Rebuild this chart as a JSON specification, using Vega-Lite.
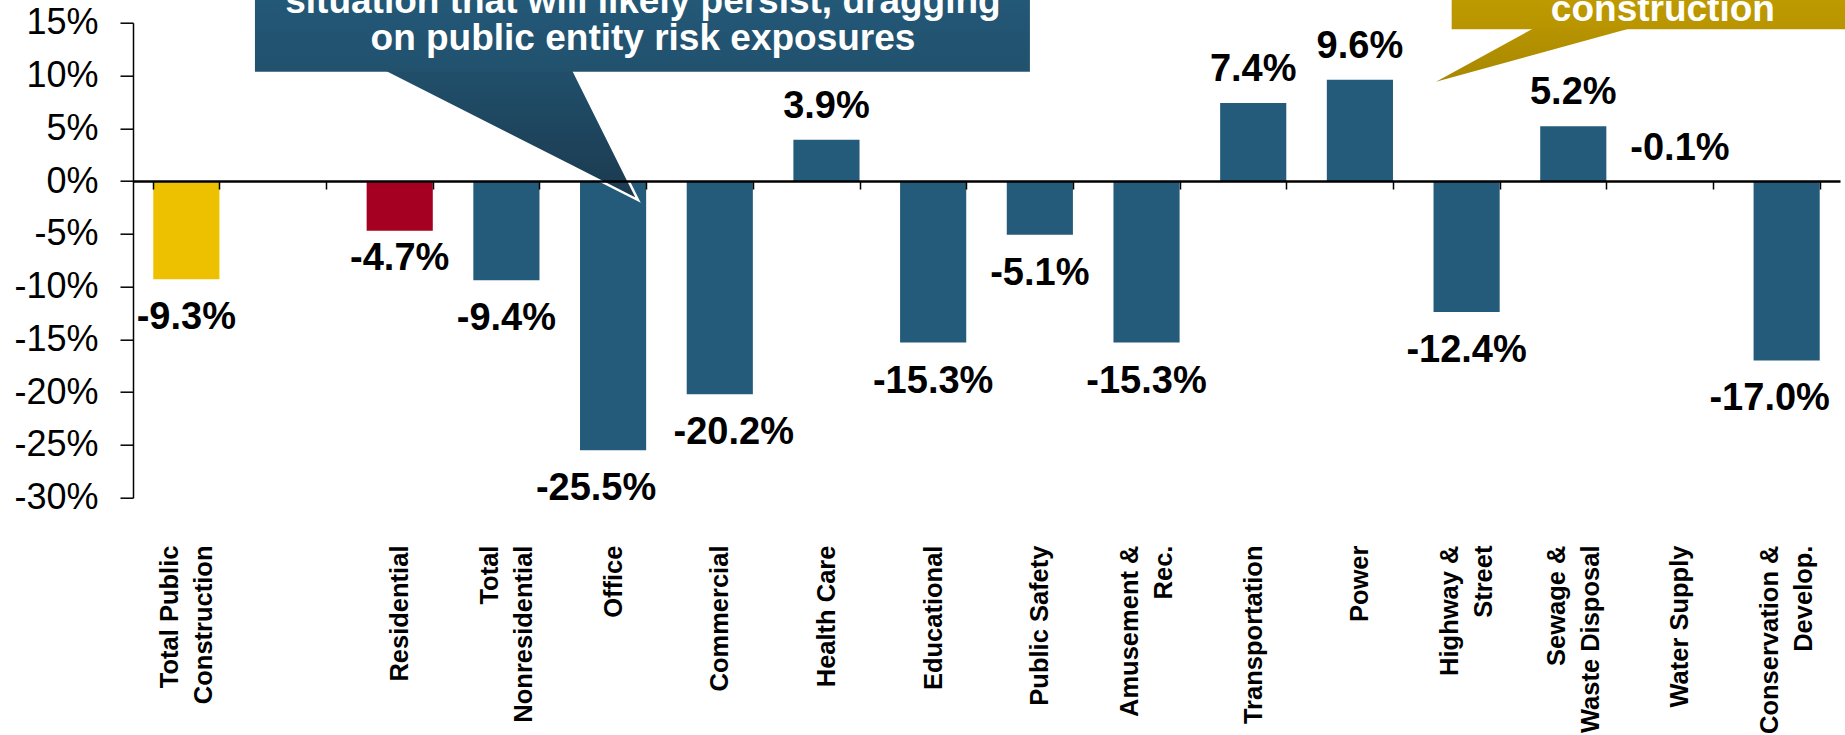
{
  "$schema": "https://vega.github.io/schema/vega-lite/v6.json",
  "width": 1707,
  "height": 475,
  "autosize": {"type": "none"},
  "padding": {"left": 133, "top": 22.7, "right": 5, "bottom": 237.3},
  "background": "white",
  "config": {"view": {"stroke": null}, "font": "Liberation Sans"},
  "datasets": {
    "construction": [
      {"category": "Total Public\nConstruction", "segment": "Total public", "change": -0.093},
      {"category": "Residential", "segment": "Residential", "change": -0.047},
      {"category": "Total\nNonresidential", "segment": "Nonresidential", "change": -0.094},
      {"category": "Office", "segment": "Nonresidential", "change": -0.255},
      {"category": "Commercial", "segment": "Nonresidential", "change": -0.202},
      {"category": "Health Care", "segment": "Nonresidential", "change": 0.039},
      {"category": "Educational", "segment": "Nonresidential", "change": -0.153},
      {"category": "Public Safety", "segment": "Nonresidential", "change": -0.051},
      {"category": "Amusement &\nRec.", "segment": "Nonresidential", "change": -0.153},
      {"category": "Transportation", "segment": "Nonresidential", "change": 0.074},
      {"category": "Power", "segment": "Nonresidential", "change": 0.096},
      {"category": "Highway &\nStreet", "segment": "Nonresidential", "change": -0.124},
      {"category": "Sewage &\nWaste Disposal", "segment": "Nonresidential", "change": 0.052},
      {"category": "Water Supply", "segment": "Nonresidential", "change": -0.001},
      {"category": "Conservation &\nDevelop.", "segment": "Nonresidential", "change": -0.170}
    ],
    "blueTip": [
      {"u": 2.238, "top": 0.1099, "bot": 0.1099},
      {"u": 4.103, "top": 0.1099, "bot": 0.0143},
      {"u": 4.733, "top": -0.018, "bot": -0.018}
    ],
    "goldTip": [
      {"u": 12.213, "top": 0.0941, "bot": 0.0941},
      {"u": 13.201, "top": 0.1487, "bot": 0.1215},
      {"u": 14.181, "top": 0.1487, "bot": 0.1487}
    ]
  },
  "layer": [
    {
      "data": {"name": "construction"},
      "transform": [
        {"calculate": "replace(format(datum.change, '.1%'), '−', '-')", "as": "label"}
      ],
      "encoding": {
        "x": {
          "field": "category",
          "type": "nominal",
          "sort": null,
          "scale": {
            "type": "band",
            "domain": ["Total Public\nConstruction", " ", "Residential", "Total\nNonresidential", "Office", "Commercial", "Health Care", "Educational", "Public Safety", "Amusement &\nRec.", "Transportation", "Power", "Highway &\nStreet", "Sewage &\nWaste Disposal", "Water Supply", "Conservation &\nDevelop."],
            "paddingInner": 0.38,
            "paddingOuter": 0.19
          },
          "axis": {
            "title": null,
            "domain": true,
            "domainColor": "#000000",
            "domainWidth": 2.5,
            "ticks": true,
            "tickBand": "extent",
            "tickColor": "#000000",
            "tickWidth": 1.5,
            "tickSize": 8,
            "offset": {"expr": "scale('y', 0) - height"},
            "labelAngle": 270,
            "labelAlign": "right",
            "labelBaseline": "middle",
            "labelPadding": 356,
            "labelOffset": {"condition": {"test": "indexof(datum.label, '\\n') >= 0", "value": -17}, "value": 0},
            "labelFont": "Liberation Sans",
            "labelFontWeight": "bold",
            "labelFontSize": 25.5,
            "labelLineHeight": 34,
            "labelColor": "#000000",
            "labelLimit": 0,
            "labelOverlap": false,
            "labelExpr": "split(datum.label, '\\n')",
            "zindex": 1
          }
        },
        "y": {
          "field": "change",
          "type": "quantitative",
          "scale": {"domain": [-0.3, 0.15], "nice": false, "zero": false},
          "axis": {
            "title": null,
            "values": [-0.3, -0.25, -0.2, -0.15, -0.1, -0.05, 0, 0.05, 0.1, 0.15],
            "labelExpr": "replace(format(datum.value, '.0%'), '−', '-')",
            "grid": false,
            "domainColor": "#000000",
            "domainWidth": 1.5,
            "tickColor": "#000000",
            "tickWidth": 1.5,
            "tickSize": 13,
            "labelPadding": 22,
            "labelFont": "Liberation Sans",
            "labelFontSize": 36,
            "labelColor": "#000000",
            "labelFlush": false,
            "labelOverlap": false,
            "zindex": 1
          }
        }
      },
      "layer": [
        {
          "mark": {"type": "bar"},
          "encoding": {
            "color": {
              "field": "segment",
              "type": "nominal",
              "scale": {"domain": ["Total public", "Residential", "Nonresidential"], "range": ["#EDC100", "#A50021", "#245B7A"]},
              "legend": null
            }
          }
        },
        {
          "transform": [{"filter": "datum.change > -0.005"}],
          "mark": {"type": "text", "font": "Liberation Sans", "fontWeight": "bold", "fontSize": 38, "color": "#000000", "baseline": "alphabetic", "align": "center", "dy": -22},
          "encoding": {"text": {"field": "label"}}
        },
        {
          "transform": [
            {"filter": {"and": [
              {"field": "change", "lt": -0.005},
              {"not": {"field": "category", "oneOf": ["Office", "Commercial", "Residential", "Conservation &\nDevelop."]}}
            ]}}
          ],
          "mark": {"type": "text", "font": "Liberation Sans", "fontWeight": "bold", "fontSize": 38, "color": "#000000", "baseline": "top", "align": "center", "dy": 20},
          "encoding": {"text": {"field": "label"}}
        },
        {
          "transform": [{"filter": {"field": "category", "oneOf": ["Office", "Conservation &\nDevelop."]}}],
          "mark": {"type": "text", "font": "Liberation Sans", "fontWeight": "bold", "fontSize": 38, "color": "#000000", "baseline": "top", "align": "center", "dy": 20, "dx": -17},
          "encoding": {"text": {"field": "label"}}
        },
        {
          "transform": [{"filter": {"field": "category", "oneOf": ["Commercial"]}}],
          "mark": {"type": "text", "font": "Liberation Sans", "fontWeight": "bold", "fontSize": 38, "color": "#000000", "baseline": "top", "align": "center", "dy": 20, "dx": 14},
          "encoding": {"text": {"field": "label"}}
        },
        {
          "transform": [{"filter": {"field": "category", "oneOf": ["Residential"]}}],
          "mark": {"type": "text", "font": "Liberation Sans", "fontWeight": "bold", "fontSize": 38, "color": "#000000", "baseline": "top", "align": "center", "dy": 9},
          "encoding": {"text": {"field": "label"}}
        }
      ]
    },
    {
      "data": {"name": "blueTip"},
      "mark": {
        "type": "area",
        "stroke": "#ffffff",
        "strokeWidth": 2.5,
        "fill": {"gradient": "linear", "x1": 0, "y1": 0, "x2": 0, "y2": 1, "stops": [{"offset": 0, "color": "#21506c"}, {"offset": 1, "color": "#1b3a4f"}]}
      },
      "encoding": {
        "x": {"field": "u", "type": "quantitative", "scale": {"domain": [0, 16], "nice": false, "zero": false}, "axis": null},
        "y": {
          "field": "top", "type": "quantitative", "scale": {"domain": [-0.3, 0.15], "nice": false, "zero": false},
          "axis": {
            "title": null,
            "values": [-0.3, -0.25, -0.2, -0.15, -0.1, -0.05, 0, 0.05, 0.1, 0.15],
            "labelExpr": "replace(format(datum.value, '.0%'), '−', '-')",
            "grid": false, "domainColor": "#000000", "domainWidth": 1.5, "tickColor": "#000000", "tickWidth": 1.5, "tickSize": 13,
            "labelPadding": 22, "labelFont": "Liberation Sans", "labelFontSize": 36, "labelColor": "#000000", "labelFlush": false, "labelOverlap": false, "zindex": 1
          }
        },
        "y2": {"field": "bot"}
      }
    },
    {
      "data": {"values": [{}]},
      "mark": {
        "type": "rect",
        "fill": {"gradient": "linear", "x1": 0, "y1": 0, "x2": 0, "y2": 1, "stops": [{"offset": 0, "color": "#265e80"}, {"offset": 1, "color": "#21516d"}]}
      },
      "encoding": {
        "x": {"datum": 1.143, "type": "quantitative", "scale": {"domain": [0, 16], "nice": false, "zero": false}, "axis": null},
        "x2": {"datum": 8.407},
        "y": {
          "datum": 0.2283, "type": "quantitative", "scale": {"domain": [-0.3, 0.15], "nice": false, "zero": false},
          "axis": {
            "title": null,
            "values": [-0.3, -0.25, -0.2, -0.15, -0.1, -0.05, 0, 0.05, 0.1, 0.15],
            "labelExpr": "replace(format(datum.value, '.0%'), '−', '-')",
            "grid": false, "domainColor": "#000000", "domainWidth": 1.5, "tickColor": "#000000", "tickWidth": 1.5, "tickSize": 13,
            "labelPadding": 22, "labelFont": "Liberation Sans", "labelFontSize": 36, "labelColor": "#000000", "labelFlush": false, "labelOverlap": false, "zindex": 1
          }
        },
        "y2": {"datum": 0.1035}
      }
    },
    {
      "data": {"values": [{}]},
      "mark": {"type": "text", "font": "Liberation Sans", "fontWeight": "bold", "fontSize": 37, "color": "#ffffff", "align": "center", "baseline": "alphabetic", "lineHeight": 37},
      "encoding": {
        "x": {"datum": 4.78, "type": "quantitative", "scale": {"domain": [0, 16], "nice": false, "zero": false}, "axis": null},
        "y": {
          "datum": 0.1592, "type": "quantitative", "scale": {"domain": [-0.3, 0.15], "nice": false, "zero": false},
          "axis": {
            "title": null,
            "values": [-0.3, -0.25, -0.2, -0.15, -0.1, -0.05, 0, 0.05, 0.1, 0.15],
            "labelExpr": "replace(format(datum.value, '.0%'), '−', '-')",
            "grid": false, "domainColor": "#000000", "domainWidth": 1.5, "tickColor": "#000000", "tickWidth": 1.5, "tickSize": 13,
            "labelPadding": 22, "labelFont": "Liberation Sans", "labelFontSize": 36, "labelColor": "#000000", "labelFlush": false, "labelOverlap": false, "zindex": 1
          }
        },
        "text": {"value": ["situation that will likely persist, dragging", "on public entity risk exposures"]}
      }
    },
    {
      "data": {"name": "goldTip"},
      "mark": {
        "type": "area",
        "fill": {"gradient": "linear", "x1": 0, "y1": 0, "x2": 0, "y2": 1, "stops": [{"offset": 0, "color": "#b89400"}, {"offset": 1, "color": "#a88800"}]}
      },
      "encoding": {
        "x": {"field": "u", "type": "quantitative", "scale": {"domain": [0, 16], "nice": false, "zero": false}, "axis": null},
        "y": {
          "field": "top", "type": "quantitative", "scale": {"domain": [-0.3, 0.15], "nice": false, "zero": false},
          "axis": {
            "title": null,
            "values": [-0.3, -0.25, -0.2, -0.15, -0.1, -0.05, 0, 0.05, 0.1, 0.15],
            "labelExpr": "replace(format(datum.value, '.0%'), '−', '-')",
            "grid": false, "domainColor": "#000000", "domainWidth": 1.5, "tickColor": "#000000", "tickWidth": 1.5, "tickSize": 13,
            "labelPadding": 22, "labelFont": "Liberation Sans", "labelFontSize": 36, "labelColor": "#000000", "labelFlush": false, "labelOverlap": false, "zindex": 1
          }
        },
        "y2": {"field": "bot"}
      }
    },
    {
      "data": {"values": [{}]},
      "mark": {
        "type": "rect",
        "fill": {"gradient": "linear", "x1": 0, "y1": 0, "x2": 0, "y2": 1, "stops": [{"offset": 0, "color": "#cba600"}, {"offset": 1, "color": "#b89400"}]}
      },
      "encoding": {
        "x": {"datum": 12.36, "type": "quantitative", "scale": {"domain": [0, 16], "nice": false, "zero": false}, "axis": null},
        "x2": {"datum": 16.6},
        "y": {
          "datum": 0.2283, "type": "quantitative", "scale": {"domain": [-0.3, 0.15], "nice": false, "zero": false},
          "axis": {
            "title": null,
            "values": [-0.3, -0.25, -0.2, -0.15, -0.1, -0.05, 0, 0.05, 0.1, 0.15],
            "labelExpr": "replace(format(datum.value, '.0%'), '−', '-')",
            "grid": false, "domainColor": "#000000", "domainWidth": 1.5, "tickColor": "#000000", "tickWidth": 1.5, "tickSize": 13,
            "labelPadding": 22, "labelFont": "Liberation Sans", "labelFontSize": 36, "labelColor": "#000000", "labelFlush": false, "labelOverlap": false, "zindex": 1
          }
        },
        "y2": {"datum": 0.1437}
      }
    },
    {
      "data": {"values": [{}]},
      "mark": {"type": "text", "font": "Liberation Sans", "fontWeight": "bold", "fontSize": 37, "color": "#ffffff", "align": "center", "baseline": "alphabetic"},
      "encoding": {
        "x": {"datum": 14.34, "type": "quantitative", "scale": {"domain": [0, 16], "nice": false, "zero": false}, "axis": null},
        "y": {
          "datum": 0.1519, "type": "quantitative", "scale": {"domain": [-0.3, 0.15], "nice": false, "zero": false},
          "axis": {
            "title": null,
            "values": [-0.3, -0.25, -0.2, -0.15, -0.1, -0.05, 0, 0.05, 0.1, 0.15],
            "labelExpr": "replace(format(datum.value, '.0%'), '−', '-')",
            "grid": false, "domainColor": "#000000", "domainWidth": 1.5, "tickColor": "#000000", "tickWidth": 1.5, "tickSize": 13,
            "labelPadding": 22, "labelFont": "Liberation Sans", "labelFontSize": 36, "labelColor": "#000000", "labelFlush": false, "labelOverlap": false, "zindex": 1
          }
        },
        "text": {"value": "construction"}
      }
    }
  ],
  "resolve": {"scale": {"x": "independent"}, "axis": {"x": "independent"}}
}
